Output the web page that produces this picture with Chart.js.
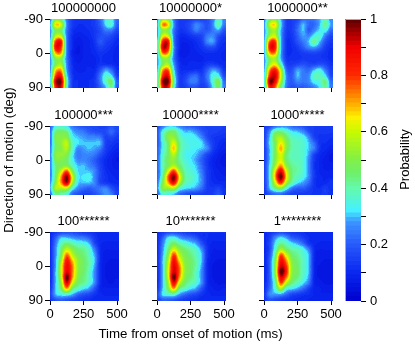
<!DOCTYPE html>
<html><head><meta charset="utf-8">
<style>html,body{margin:0;padding:0;background:#fff;width:415px;height:345px;overflow:hidden}
canvas{position:absolute;left:0;top:0}</style>
<script src="https://cdn.jsdelivr.net/npm/chart.js@4"></script>
</head><body>
<script>
const titles=["100000000","10000000*","1000000**","100000***","10000****","1000*****","100******","10*******","1********"];
const xNodes=[0,41.67,83.33,125,166.67,208.33,250,291.67,333.33,375,416.67,458.33,500];
const yNodes=[-90,-75,-60,-45,-30,-15,0,15,30,45,60,75,90];
const xTicks=[0,250,500];
const yTicks=[-90,0,90];
const barTicks=[0,0.1,0.2,0.3,0.4,0.5,0.6,0.7,0.8,0.9,1];
const panel1=[[24,48,44,24,14,12,12,12,14,22,32,34,22],[28,66,60,26,14,11,11,12,14,20,32,36,20],[26,48,46,24,12,10,10,11,13,17,24,24,16],[26,58,58,24,11,8,9,10,13,17,18,16,12],[30,80,84,26,10,7,8,9,12,19,15,13,10],[30,86,80,26,10,6,8,9,11,15,13,11,9],[28,70,70,25,9,6,8,9,10,12,11,10,8],[26,50,50,24,10,7,8,9,9,11,10,10,8],[26,48,54,26,11,8,9,9,9,12,12,11,9],[26,66,70,28,12,9,9,10,10,18,28,22,11],[28,78,84,34,13,10,10,10,12,24,36,32,14],[30,92,96,40,14,11,10,11,13,24,38,46,20],[26,84,90,38,14,11,11,11,13,20,30,42,20]];
const panel2=[[24,52,50,24,14,13,14,16,15,17,24,36,26],[26,72,66,28,14,14,18,26,22,18,26,40,24],[26,50,48,24,13,13,17,24,20,19,24,28,18],[26,62,60,24,11,10,12,14,16,24,26,18,13],[30,82,86,26,10,8,9,11,14,26,28,15,11],[30,90,84,28,10,7,8,10,12,16,17,12,10],[28,74,70,26,9,7,8,9,10,11,11,10,9],[26,50,50,24,10,8,9,9,9,10,10,10,9],[26,48,56,28,12,9,10,10,10,13,14,12,10],[28,70,76,34,13,11,11,12,12,20,28,24,12],[30,80,88,40,15,14,20,22,15,24,34,34,16],[30,94,98,44,16,16,24,24,16,22,36,48,22],[28,86,88,40,15,14,18,18,14,18,32,46,24]];
const panel3=[[24,46,50,30,15,14,16,22,22,24,30,38,26],[26,58,66,34,15,14,20,30,22,22,30,42,28],[26,48,54,30,14,14,22,30,20,26,32,34,22],[26,54,60,30,13,13,20,28,26,34,36,24,16],[28,76,80,32,12,12,18,24,30,42,30,18,13],[28,84,84,32,12,11,14,20,26,28,22,14,11],[28,70,72,30,12,11,12,14,15,16,14,12,10],[26,50,54,30,13,12,12,13,13,13,13,12,10],[26,54,64,40,16,14,16,18,16,16,18,16,12],[28,72,84,58,22,18,28,24,22,30,34,24,14],[30,82,92,62,26,20,30,24,26,38,38,32,16],[32,96,88,56,26,20,26,24,26,34,36,44,22],[28,84,76,46,24,18,20,20,22,26,32,42,24]];
const panel4=[[20,34,36,32,24,20,18,17,16,15,15,18,16],[22,44,46,44,30,26,24,20,18,17,17,22,16],[22,48,50,50,34,30,28,26,26,24,15,16,13],[22,46,52,58,38,32,30,30,30,30,15,13,11],[24,46,50,56,38,26,28,30,28,24,14,11,9],[24,50,52,50,34,24,26,26,24,18,12,9,7],[24,48,50,46,34,26,26,24,20,14,10,8,6],[24,44,48,50,38,30,30,26,22,15,10,8,7],[24,44,60,78,50,32,30,30,26,16,11,9,8],[24,46,72,98,62,34,32,34,26,16,12,10,9],[26,50,72,94,56,32,30,30,26,16,13,11,10],[28,56,56,58,36,26,22,20,22,24,26,18,13],[22,42,40,36,22,18,15,15,18,22,28,24,15]];
const panel5=[[16,24,30,30,26,22,20,18,16,15,15,15,14],[18,34,44,46,36,30,30,26,20,16,15,14,13],[18,36,50,52,40,34,34,32,26,17,13,12,11],[18,34,46,62,44,36,34,34,32,22,14,11,9],[20,34,46,68,44,36,34,32,30,26,14,10,8],[20,36,46,58,42,34,32,30,24,16,11,8,6],[20,38,48,52,42,36,32,28,20,13,9,7,5],[20,38,48,56,46,38,34,30,22,13,9,7,6],[20,38,62,80,56,40,36,32,24,14,10,8,7],[20,42,76,98,66,42,38,34,26,14,10,9,8],[22,48,70,88,58,40,36,32,26,14,11,10,10],[24,50,52,56,38,32,30,28,22,14,13,15,11],[20,36,34,30,22,18,16,15,14,13,14,18,12]];
const panel6=[[13,16,22,26,26,22,20,18,15,14,14,14,14],[14,26,42,44,38,32,30,26,18,14,13,13,13],[14,30,50,56,46,38,36,34,26,15,12,12,11],[14,32,48,64,50,40,38,36,30,22,12,11,10],[14,30,48,70,50,40,38,36,30,24,12,10,8],[14,30,48,62,46,38,38,36,28,15,10,8,6],[14,30,50,62,46,40,38,36,26,13,9,7,6],[14,32,54,72,52,42,40,36,26,12,9,7,7],[14,34,66,90,62,44,40,36,26,13,9,8,8],[14,34,70,100,66,44,38,34,26,13,10,9,9],[14,32,60,82,56,40,32,28,22,12,10,10,12],[13,30,44,50,36,24,20,20,16,12,11,14,11],[13,18,22,22,18,15,14,13,13,12,12,14,11]];
const panel7=[[10,13,16,18,17,15,13,12,11,10,10,10,11],[10,20,30,30,27,25,24,20,13,10,10,10,10],[10,24,38,44,40,36,34,30,16,10,9,9,9],[10,26,44,58,50,44,42,36,24,10,8,8,8],[10,26,48,74,58,48,44,38,28,11,7,7,7],[10,28,54,84,68,52,46,40,30,11,7,6,6],[10,28,60,88,74,52,46,40,28,10,6,5,5],[10,30,60,90,74,52,46,38,26,10,6,5,5],[10,30,58,100,72,50,44,38,26,10,6,6,6],[10,30,52,90,62,46,42,36,26,10,7,6,7],[12,30,46,70,46,38,32,28,18,9,8,8,8],[14,30,34,36,30,22,18,16,12,10,9,9,9],[12,18,20,18,16,14,12,11,10,10,10,10,10]];
const panel8=[[10,13,16,17,16,14,12,11,11,11,11,11,11],[10,20,32,34,28,24,22,18,12,11,10,10,10],[10,24,38,46,40,36,32,28,18,11,9,9,9],[10,26,44,60,50,44,40,36,26,12,8,8,8],[10,28,50,78,58,48,44,38,30,12,7,7,7],[10,30,56,86,66,50,46,40,30,11,7,6,6],[10,30,60,90,74,52,46,40,28,10,6,5,5],[10,30,62,92,76,52,46,38,26,10,6,5,5],[10,30,60,100,72,50,44,38,26,10,6,5,5],[10,30,54,88,60,46,40,36,26,10,7,6,6],[12,30,48,70,44,38,32,28,18,10,8,7,8],[16,32,36,38,28,22,18,16,12,10,9,9,9],[14,20,20,18,15,13,12,11,10,10,10,10,10]];
const panel9=[[10,12,14,17,15,13,12,11,10,10,10,10,10],[10,14,26,32,28,20,18,14,11,10,10,10,10],[10,16,32,42,38,32,28,22,13,10,9,9,9],[9,16,36,54,46,40,38,34,24,10,8,8,8],[9,18,42,76,60,46,42,36,30,10,7,7,7],[9,20,48,86,72,50,44,38,30,10,7,6,6],[9,20,50,92,80,52,46,38,30,9,6,5,5],[9,20,50,100,84,52,46,38,30,9,6,5,5],[9,20,46,90,74,50,44,36,28,9,6,5,5],[9,20,40,78,58,44,38,32,24,9,7,6,6],[10,22,36,56,36,32,28,22,14,9,8,7,7],[12,26,28,28,22,16,14,12,11,9,8,8,8],[11,18,16,14,12,11,10,10,9,9,9,9,9]];
const panels=[panel1,panel2,panel3,panel4,panel5,panel6,panel7,panel8,panel9];
const colorStops=[[0,0,0,205],[0.1,10,40,240],[0.2,40,90,250],[0.28,60,150,255],[0.32,70,240,255],[0.4,100,250,170],[0.45,110,240,110],[0.5,130,240,70],[0.6,200,250,0],[0.65,255,240,0],[0.7,255,170,0],[0.8,255,40,0],[0.9,240,0,0],[1,90,0,0]];
const LEVELS=64;

const FONT='"Liberation Sans", Arial, sans-serif';
function colorAt(v){
  v=Math.max(0,Math.min(1,v));
  for(let i=1;i<colorStops.length;i++){
    const a=colorStops[i-1],b=colorStops[i];
    if(v<=b[0]){const t=(v-a[0])/(b[0]-a[0]);
      return `rgb(${Math.round(a[1]+t*(b[1]-a[1]))},${Math.round(a[2]+t*(b[2]-a[2]))},${Math.round(a[3]+t*(b[3]-a[3]))})`;}
  }
  return 'rgb(90,0,0)';
}
const palette=[];for(let i=0;i<LEVELS;i++)palette.push(colorAt((i+0.5)/LEVELS));
function cr(p0,p1,p2,p3,t){return 0.5*(2*p1+(p2-p0)*t+(2*p0-5*p1+4*p2-p3)*t*t+(3*p1-3*p2+p3-p0)*t*t*t);}
function frac(nodes,val){
  const n=nodes.length-1,lo=nodes[0],hi=nodes[n];
  const f=(val-lo)/(hi-lo)*n;
  return Math.max(0,Math.min(n,f));
}
function sample(chart,gx,gy){
  const ds=chart.data.datasets[0].data,nx=xNodes.length,ny=yNodes.length;
  const at=(c,r)=>ds[Math.max(0,Math.min(ny-1,r))*nx+Math.max(0,Math.min(nx-1,c))].v;
  const cx=Math.min(nx-2,Math.floor(gx)),ry=Math.min(ny-2,Math.floor(gy));
  const tx=gx-cx,ty=gy-ry,rowv=[];
  for(let j=-1;j<=2;j++)rowv.push(cr(at(cx-1,ry+j),at(cx,ry+j),at(cx+1,ry+j),at(cx+2,ry+j),tx));
  return cr(rowv[0],rowv[1],rowv[2],rowv[3],ty);
}
const heatPlugin={id:'heat',beforeDatasetsDraw(chart){
  const {ctx,chartArea:a,scales:{x,y}}=chart;
  const x0=Math.floor(a.left),x1=Math.ceil(a.right)+2,y0=Math.floor(a.top),y1=Math.ceil(a.bottom)+1;
  for(let py=y0;py<y1;py++){
    const gy=frac(yNodes,y.getValueForPixel(py+0.5));
    for(let px=x0;px<x1;px++){
      const gx=frac(xNodes,x.getValueForPixel(px+0.5));
      const v=Math.max(0,Math.min(0.999,sample(chart,gx,gy)/100));
      ctx.fillStyle=palette[Math.floor(v*LEVELS)];
      ctx.fillRect(px,py,1,1);
    }
  }
},afterDraw(chart,args,opts){
  if(!opts.xTitle)return;
  const {ctx,chartArea:a}=chart;
  ctx.save();ctx.fillStyle='#000';ctx.font='13.3px '+FONT;ctx.textAlign='center';ctx.textBaseline='middle';
  ctx.fillText(opts.xTitle,(a.left+a.right)/2,334);ctx.restore();
}};
const colLeft=[50,157,264],rowTop=[19,126,232],PW=67,PH=68;
const YW=50,XH=45,TH=18.5;
function addCanvas(){const c=document.createElement('canvas');c.width=415;c.height=345;c.style.width='415px';c.style.height='345px';document.body.appendChild(c);return c;}
panels.forEach((grid,i)=>{
  const col=i%3,row=Math.floor(i/3);
  const L=colLeft[col],T=rowTop[row];
  const pts=[];
  grid.forEach((r,ri)=>r.forEach((v,ci)=>pts.push({x:xNodes[ci],y:yNodes[ri],v})));
  new Chart(addCanvas(),{
    type:'scatter',
    data:{datasets:[{data:pts,pointRadius:0,showLine:false}]},
    options:{
      responsive:false,animation:false,devicePixelRatio:1,
      layout:{autoPadding:false,padding:{left:L-YW,top:T-TH,right:415-L-PW,bottom:345-T-PH-XH}},
      plugins:{legend:{display:false},tooltip:{enabled:false},
        heat:{xTitle:i===7?'Time from onset of motion (ms)':''},
        title:{display:true,text:titles[i],fullSize:false,color:'#000',font:{family:FONT,size:13,weight:'normal',lineHeight:1.2},padding:{top:0,bottom:2.9}}},
      scales:{
        x:{type:'linear',min:0,max:500,
          afterBuildTicks(s){s.ticks=xTicks.map(v=>({value:v}));},
          afterFit(s){s.height=XH;},
          border:{display:false},
          grid:{drawOnChartArea:false,drawTicks:true,tickLength:5,color:'#000',tickColor:'#000',lineWidth:1},
          ticks:{maxRotation:0,autoSkip:false,padding:2,color:'#000',font:{family:FONT,size:13},callback:v=>row===2?String(v):''}},
        y:{type:'linear',reverse:true,min:-90,max:90,
          afterBuildTicks(s){s.ticks=yTicks.map(v=>({value:v}));},
          afterFit(s){s.width=YW;},
          border:{display:false},
          grid:{drawOnChartArea:false,drawTicks:true,tickLength:5,color:'#000',tickColor:'#000',lineWidth:1},
          ticks:{autoSkip:false,padding:2,color:'#000',font:{family:FONT,size:13},callback:v=>col===0?String(v):''},
          title:{display:i===3,text:'Direction of motion (deg)',color:'#000',font:{family:FONT,size:13.3},padding:{top:1,bottom:0}}}
      }
    },
    plugins:[heatPlugin]
  });
});
const barPlugin={id:'barText',afterDraw(chart){
  const {ctx,chartArea:a}=chart;
  ctx.save();ctx.strokeStyle='#aaa';ctx.lineWidth=1;
  ctx.beginPath();ctx.moveTo(a.left+0.5,a.bottom);ctx.lineTo(a.left+0.5,a.top+0.5);ctx.lineTo(a.right,a.top+0.5);ctx.stroke();
  ctx.translate(405,159.5);ctx.rotate(-Math.PI/2);
  ctx.fillStyle='#000';ctx.font='13px '+FONT;ctx.textAlign='center';ctx.textBaseline='middle';
  ctx.fillText('Probability',0,0);ctx.restore();
}};
new Chart(addCanvas(),{
  type:'bar',
  data:{labels:['p'],datasets:palette.map((c,i)=>({data:[[0,(i+1)/LEVELS]],backgroundColor:c,borderWidth:0,barPercentage:1,categoryPercentage:1,grouped:false}))},
  options:{
    responsive:false,animation:false,devicePixelRatio:1,
    layout:{autoPadding:false,padding:{left:345,top:19,right:0,bottom:44}},
    plugins:{legend:{display:false},tooltip:{enabled:false},title:{display:false}},
    scales:{
      x:{display:false,stacked:false},
      y:{position:'right',min:0,max:1,
        afterBuildTicks(s){s.ticks=barTicks.map(v=>({value:v}));},
        afterFit(s){s.width=54;},
        border:{display:false},
        grid:{drawOnChartArea:false,drawTicks:true,tickLength:5,color:'#000',tickColor:'#000'},
        ticks:{autoSkip:false,padding:4,color:'#000',font:{family:FONT,size:13},
          callback:v=>{const k=Math.round(v*10);return k%2===0?String(k/10):'';}}}
    }
  },
  plugins:[barPlugin]
});
</script>
</body></html>
